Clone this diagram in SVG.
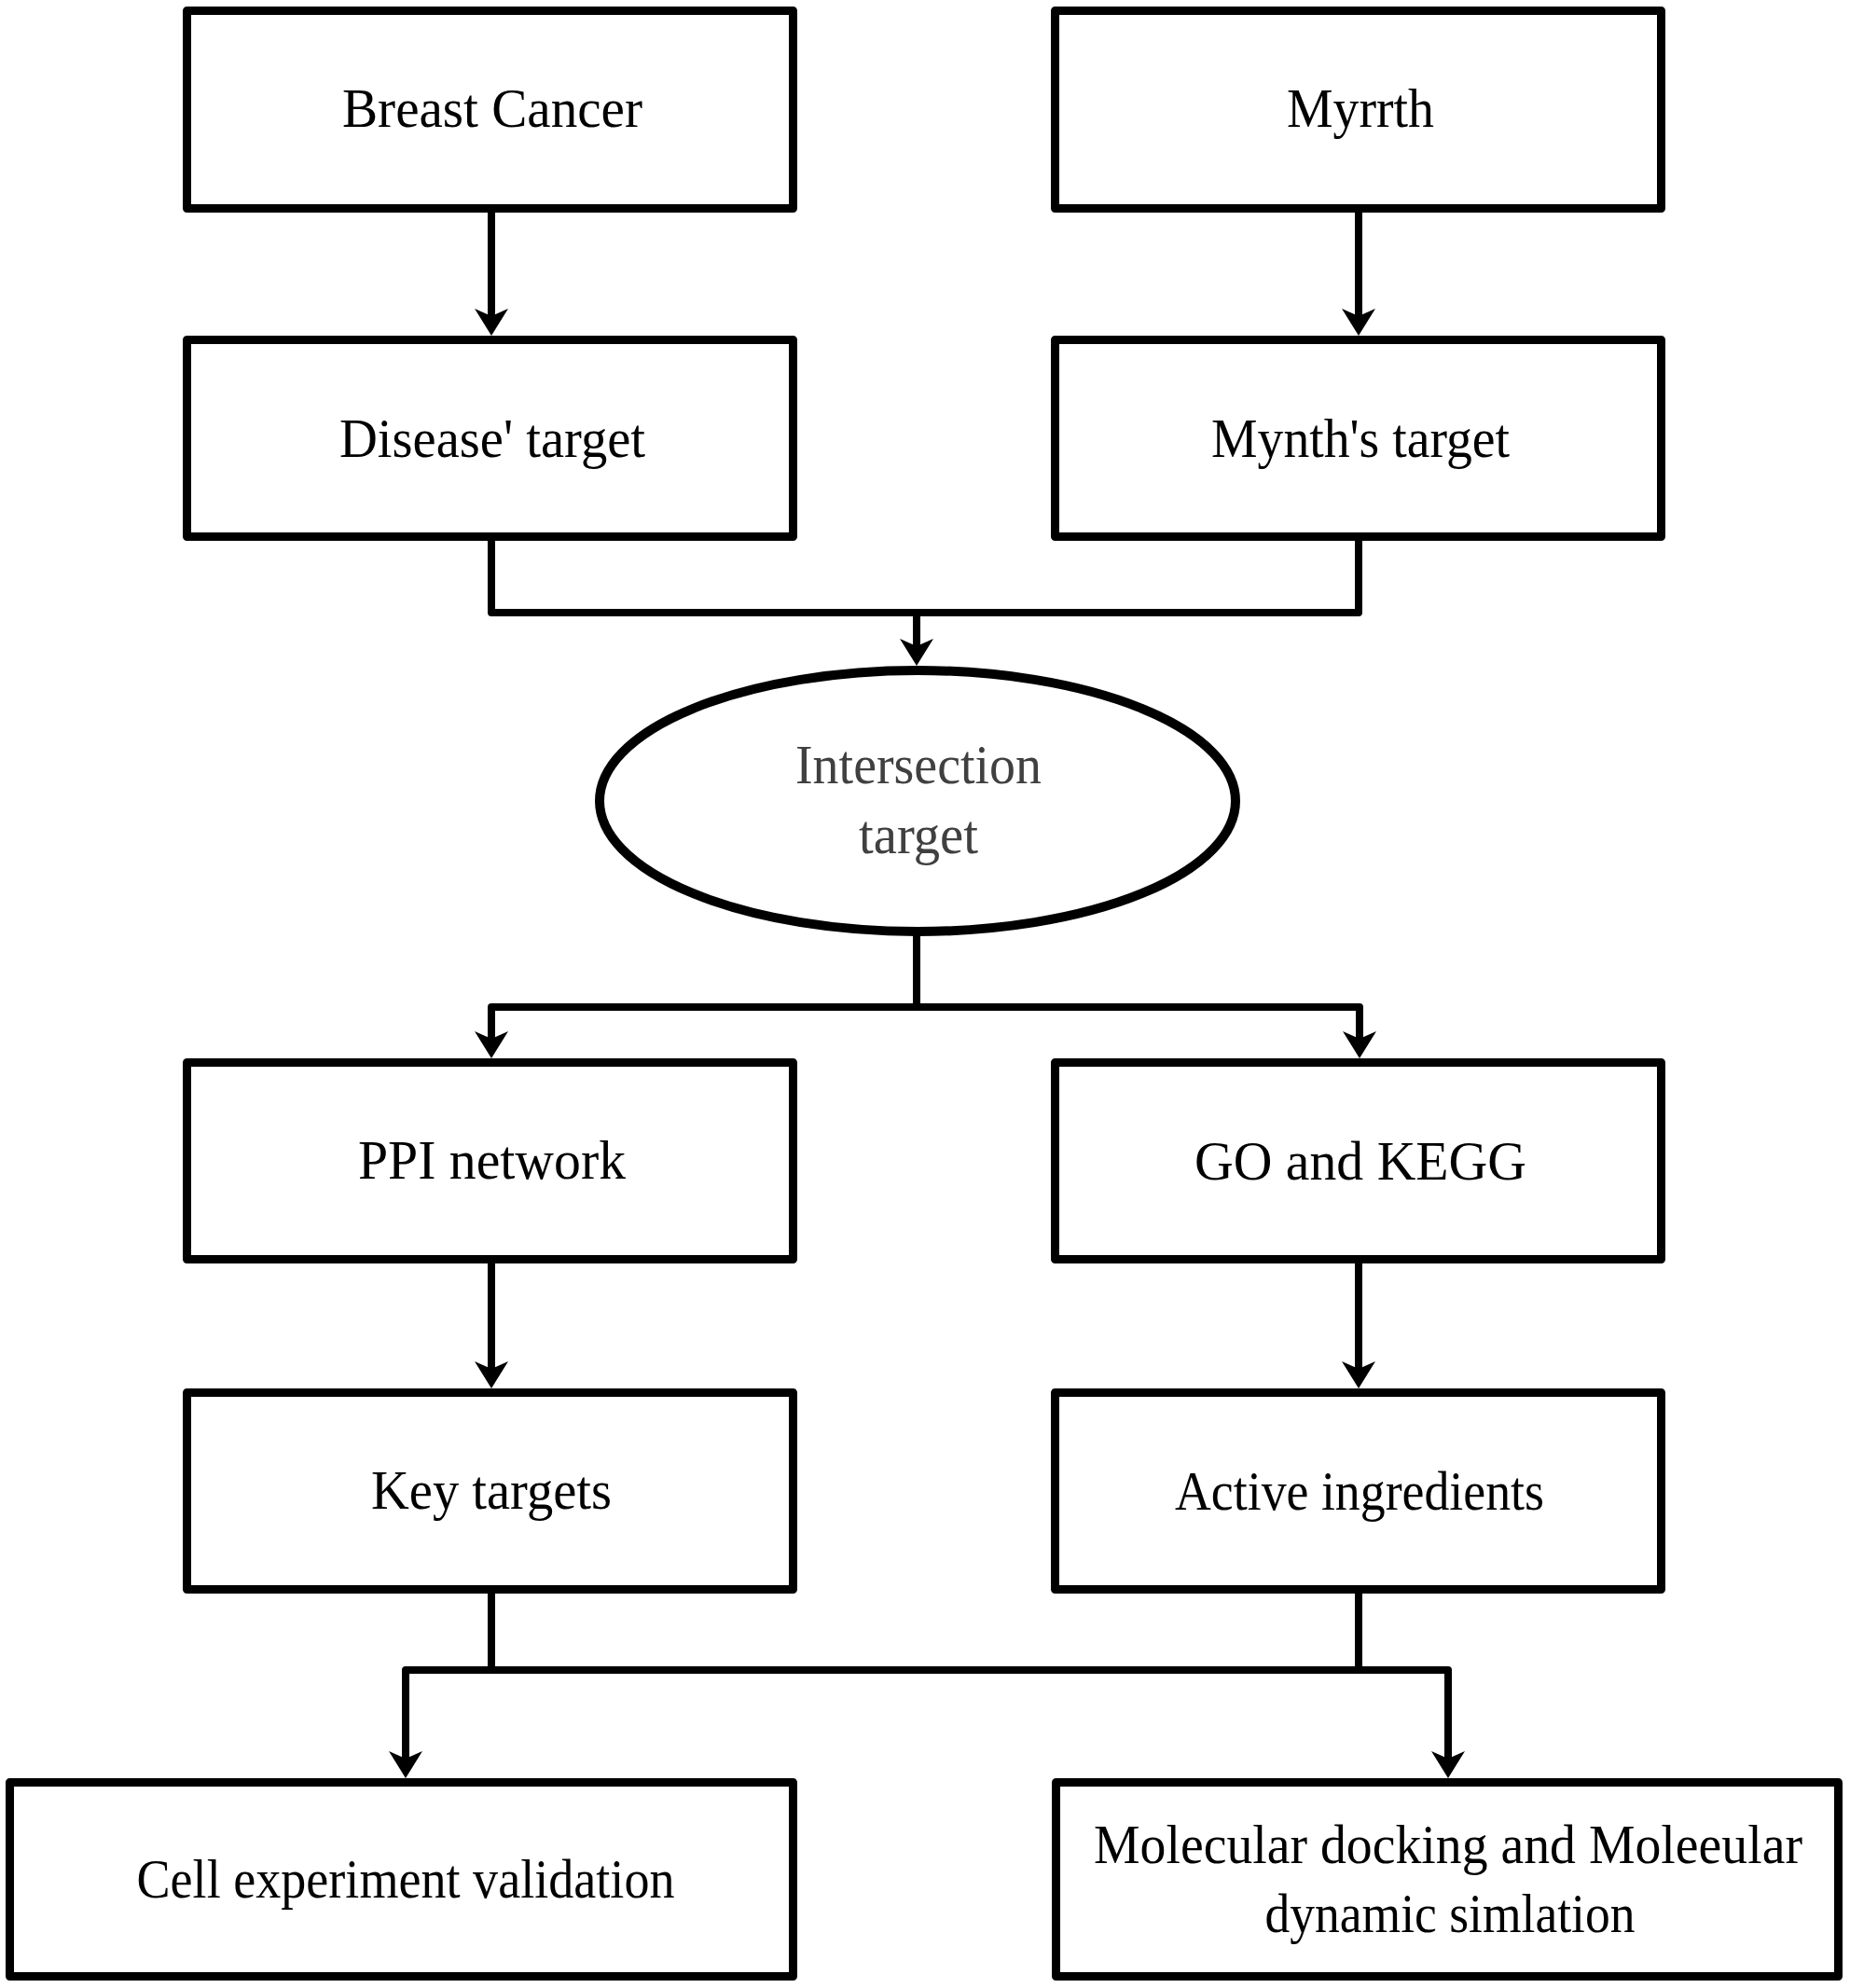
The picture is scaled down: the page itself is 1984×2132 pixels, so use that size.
<svg xmlns="http://www.w3.org/2000/svg" width="1984" height="2132" viewBox="0 0 1984 2132">
<style>
.box{fill:#fff;stroke:#000;stroke-width:9;stroke-linejoin:round}
.ell{fill:#fff;stroke:#000;stroke-width:10}
.lbl{font-family:"Liberation Serif","Times New Roman",serif;font-size:59px;fill:#000;text-anchor:middle}
.gray{fill:#404040}
.con{fill:none;stroke:#000;stroke-width:8;stroke-linejoin:round}
</style>
<defs>
<marker id="arr" markerUnits="userSpaceOnUse" viewBox="0 -20 32 40" markerWidth="32" markerHeight="40" refX="8" refY="0" orient="auto">
<path d="M0,-18 L29,0 L0,18 L8,0 Z" fill="#000"/>
</marker>
</defs>
<rect width="1984" height="2132" fill="#fff"/>
<g id="connectors">
<path class="con" d="M527,228 V339" marker-end="url(#arr)"/>
<path class="con" d="M1457,228 V339" marker-end="url(#arr)"/>
<path class="con" d="M527,580 V657 H1457 V580"/>
<path class="con" d="M983,657 V693" marker-end="url(#arr)"/>
<path class="con" d="M983,1002 V1080"/>
<path class="con" d="M983,1080 H527 V1114" marker-end="url(#arr)"/>
<path class="con" d="M983,1080 H1458 V1114" marker-end="url(#arr)"/>
<path class="con" d="M527,1355 V1468" marker-end="url(#arr)"/>
<path class="con" d="M1457,1355 V1468" marker-end="url(#arr)"/>
<path class="con" d="M527,1708 V1791"/>
<path class="con" d="M1457,1708 V1791"/>
<path class="con" d="M900,1791 H435 V1886" marker-end="url(#arr)"/>
<path class="con" d="M900,1791 H1553 V1886" marker-end="url(#arr)"/>
</g>
<g id="breast-cancer">
<rect class="box" x="200.5" y="11.5" width="650" height="212"/>
<text class="lbl" x="528" y="136" textLength="322" lengthAdjust="spacingAndGlyphs">Breast Cancer</text>
</g>
<g id="myrrth">
<rect class="box" x="1131.5" y="11.5" width="650" height="212"/>
<text class="lbl" x="1459" y="136" textLength="158" lengthAdjust="spacingAndGlyphs">Myrrth</text>
</g>
<g id="disease-target">
<rect class="box" x="200.5" y="364.5" width="650" height="211"/>
<text class="lbl" x="528" y="490" textLength="328" lengthAdjust="spacingAndGlyphs">Disease' target</text>
</g>
<g id="mynth-target">
<rect class="box" x="1131.5" y="364.5" width="650" height="211"/>
<text class="lbl" x="1459" y="490" textLength="320" lengthAdjust="spacingAndGlyphs">Mynth's target</text>
</g>
<g id="intersection-target">
<ellipse class="ell" cx="984" cy="859" rx="341" ry="140"/>
<text class="lbl gray" x="985" y="840" textLength="264" lengthAdjust="spacingAndGlyphs">Intersection</text>
<text class="lbl gray" x="985" y="915" textLength="128" lengthAdjust="spacingAndGlyphs">target</text>
</g>
<g id="ppi-network">
<rect class="box" x="200.5" y="1139.5" width="650" height="211"/>
<text class="lbl" x="527.5" y="1264" textLength="287" lengthAdjust="spacingAndGlyphs">PPI network</text>
</g>
<g id="go-kegg">
<rect class="box" x="1131.5" y="1139.5" width="650" height="211"/>
<text class="lbl" x="1459" y="1265" textLength="356" lengthAdjust="spacingAndGlyphs">GO and KEGG</text>
</g>
<g id="key-targets">
<rect class="box" x="200.5" y="1493.5" width="650" height="211"/>
<text class="lbl" x="527" y="1618" textLength="258" lengthAdjust="spacingAndGlyphs">Key targets</text>
</g>
<g id="active-ingredients">
<rect class="box" x="1131.5" y="1493.5" width="650" height="211"/>
<text class="lbl" x="1458" y="1619" textLength="396" lengthAdjust="spacingAndGlyphs">Active ingredients</text>
</g>
<g id="cell-experiment">
<rect class="box" x="10.5" y="1911.5" width="840" height="208"/>
<text class="lbl" x="435" y="2035" textLength="577" lengthAdjust="spacingAndGlyphs">Cell experiment validation</text>
</g>
<g id="molecular-docking">
<rect class="box" x="1132.5" y="1911.5" width="839" height="208"/>
<text class="lbl" x="1553" y="1998" textLength="760" lengthAdjust="spacingAndGlyphs">Molecular docking and Moleeular</text>
<text class="lbl" x="1555" y="2072" textLength="397" lengthAdjust="spacingAndGlyphs">dynamic simlation</text>
</g>
</svg>
